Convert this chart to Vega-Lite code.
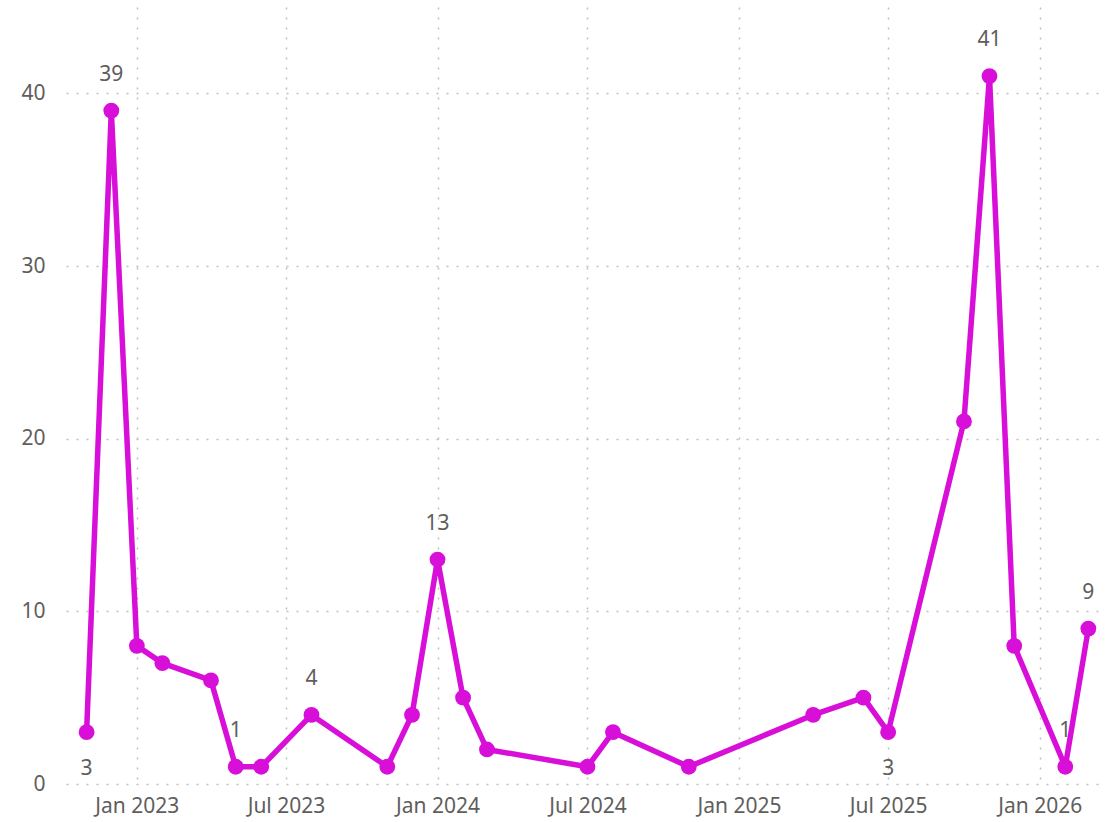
{
  "$schema": "https://vega.github.io/schema/vega-lite/v6.json",
  "width": 1038,
  "height": 777,
  "autosize": {"type": "none"},
  "padding": {"left": 66, "top": 7, "right": 13, "bottom": 38},
  "background": "white",
  "config": {
    "view": {"stroke": null},
    "font": "Noto Sans",
    "axis": {
      "labelFont": "Noto Sans",
      "labelFontSize": 21,
      "labelColor": "#605E5C",
      "grid": true,
      "gridColor": "#BFBFBF",
      "gridDash": [2, 8],
      "gridWidth": 1.5,
      "domain": false,
      "ticks": false,
      "title": null
    }
  },
  "data": {
    "values": [
      {"date": "2022-11-01", "v": 3},
      {"date": "2022-12-01", "v": 39},
      {"date": "2023-01-01", "v": 8},
      {"date": "2023-02-01", "v": 7},
      {"date": "2023-04-01", "v": 6},
      {"date": "2023-05-01", "v": 1},
      {"date": "2023-06-01", "v": 1},
      {"date": "2023-08-01", "v": 4},
      {"date": "2023-11-01", "v": 1},
      {"date": "2023-12-01", "v": 4},
      {"date": "2024-01-01", "v": 13},
      {"date": "2024-02-01", "v": 5},
      {"date": "2024-03-01", "v": 2},
      {"date": "2024-07-01", "v": 1},
      {"date": "2024-08-01", "v": 3},
      {"date": "2024-11-01", "v": 1},
      {"date": "2025-04-01", "v": 4},
      {"date": "2025-06-01", "v": 5},
      {"date": "2025-07-01", "v": 3},
      {"date": "2025-10-01", "v": 21},
      {"date": "2025-11-01", "v": 41},
      {"date": "2025-12-01", "v": 8},
      {"date": "2026-02-01", "v": 1},
      {"date": "2026-03-01", "v": 9}
    ]
  },
  "encoding": {
    "x": {
      "field": "date",
      "type": "temporal",
      "scale": {
        "type": "utc",
        "domain": [
          {"year": 2022, "month": 10, "date": 7, "utc": true},
          {"year": 2026, "month": 3, "date": 20, "utc": true}
        ]
      },
      "axis": {
        "format": "%b %Y",
        "labelPadding": 11,
        "values": [
          {"year": 2023, "month": 1, "date": 1, "utc": true},
          {"year": 2023, "month": 7, "date": 1, "utc": true},
          {"year": 2024, "month": 1, "date": 1, "utc": true},
          {"year": 2024, "month": 7, "date": 1, "utc": true},
          {"year": 2025, "month": 1, "date": 1, "utc": true},
          {"year": 2025, "month": 7, "date": 1, "utc": true},
          {"year": 2026, "month": 1, "date": 1, "utc": true}
        ]
      }
    },
    "y": {
      "field": "v",
      "type": "quantitative",
      "scale": {"domain": [0, 45], "nice": false},
      "axis": {"values": [0, 10, 20, 30, 40], "labelPadding": 21}
    }
  },
  "layer": [
    {
      "mark": {"type": "line", "color": "#D80FD8", "strokeWidth": 5.5, "strokeJoin": "round"}
    },
    {
      "mark": {"type": "point", "filled": true, "opacity": 1, "color": "#D80FD8", "size": 250}
    },
    {
      "transform": [
        {"filter": "indexof(['2022-12','2023-05','2023-08','2024-01','2025-11','2026-02','2026-03'], utcFormat(datum.date, '%Y-%m')) >= 0"}
      ],
      "mark": {"type": "text", "dy": -36, "fontSize": 21, "color": "#605E5C", "font": "Noto Sans"},
      "encoding": {"text": {"field": "v", "type": "quantitative"}}
    },
    {
      "transform": [
        {"filter": "indexof(['2022-11','2025-07'], utcFormat(datum.date, '%Y-%m')) >= 0"}
      ],
      "mark": {"type": "text", "dy": 37, "fontSize": 21, "color": "#605E5C", "font": "Noto Sans"},
      "encoding": {"text": {"field": "v", "type": "quantitative"}}
    }
  ]
}
